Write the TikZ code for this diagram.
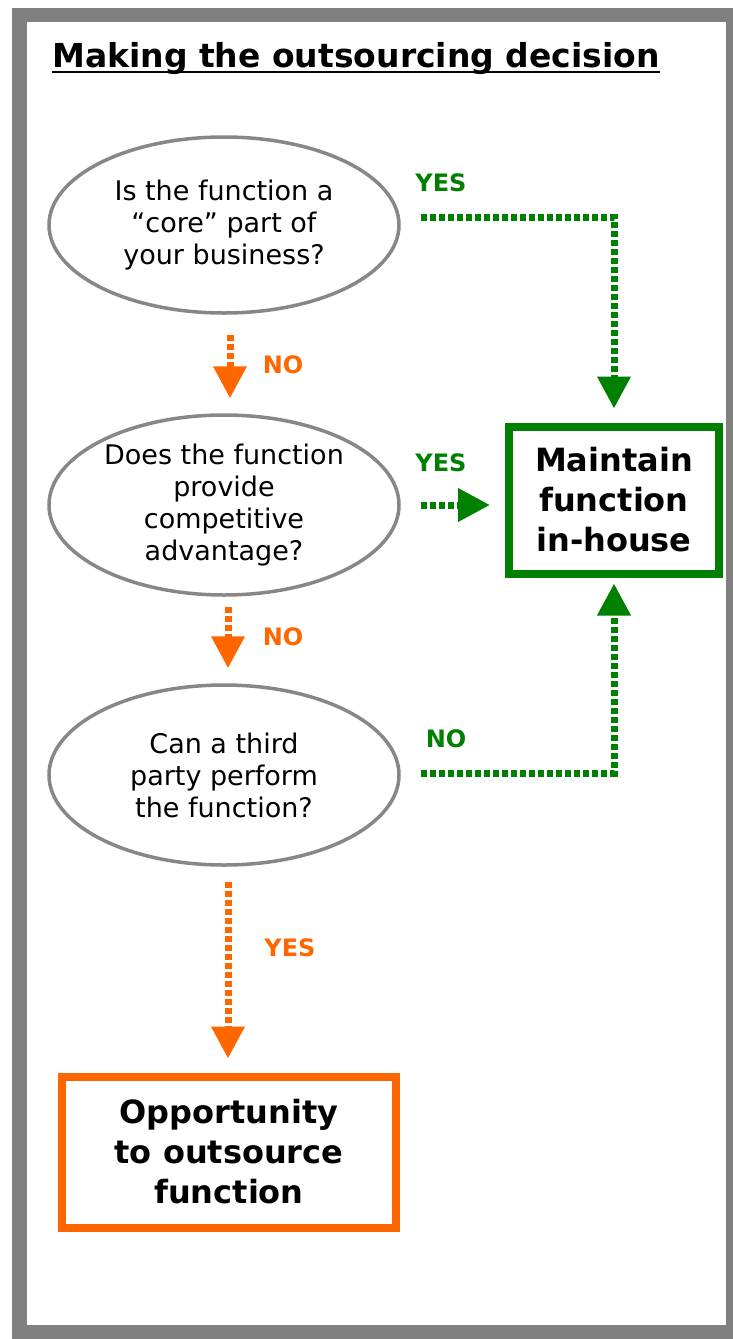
\documentclass[tikz,border=0pt]{standalone}
\usepackage{fontspec}
\setmainfont{DejaVu Sans}
\usetikzlibrary{shapes.geometric,arrows.meta}
\definecolor{dgreen}{RGB}{0,128,0}
\definecolor{dorange}{RGB}{255,102,0}
\definecolor{framegray}{RGB}{128,128,128}
\definecolor{ovalgray}{RGB}{135,135,135}
\begin{document}
\begin{tikzpicture}[x=1pt, y=-1pt, >={Triangle[length=32pt,width=32pt]},
	question/.style={ellipse, draw=ovalgray, line width=3.5pt, minimum width=350pt, minimum height=176pt,
		inner sep=0pt, align=center, font=\fontsize{27}{32}\selectfont},
	result/.style={rectangle, line width=8pt, fill=white, inner sep=0pt, align=center,
		font=\fontsize{32}{40}\selectfont\bfseries},
	gflow/.style={draw=dgreen, line width=7pt, dash pattern=on 6pt off 3pt, ->},
	oflow/.style={draw=dorange, line width=7pt, dash pattern=on 6pt off 3pt, ->},
	glabel/.style={text=dgreen, font=\fontsize{24}{28}\selectfont\bfseries},
	olabel/.style={text=dorange, font=\fontsize{24}{28}\selectfont\bfseries}]
	\useasboundingbox (0,0) rectangle (733,1339);
	\fill[framegray] (12,8) rectangle (733,1339);
	\fill[white] (27,22) rectangle (726,1325);
	\node[anchor=base west, inner sep=0pt, font=\fontsize{33}{40}\selectfont\bfseries] (title) at (52,67) {Making the outsourcing decision};
	\draw[line width=1.8pt] ([yshift=-5pt]title.base west) -- ([yshift=-5pt]title.base east);
	% questions
	\node[question] (q1) at (224,225) {Is the function a\\“core” part of\\your business?};
	\node[question, minimum height=180pt] (q2) at (224,505) {Does the function\\provide\\competitive\\advantage?};
	\node[question, minimum height=180pt] (q3) at (224,775) {Can a third\\party perform\\the function?};
	% outcomes
	\node[result, draw=dgreen, minimum width=210pt, minimum height=147pt] (keep) at (614,500) {Maintain\\function\\in-house};
	\node[result, draw=dorange, minimum width=334pt, minimum height=151pt] (outsrc) at (229,1152) {Opportunity\\to outsource\\function};
	% flow
	\draw[oflow, shorten <=20pt, shorten >=15pt] ([xshift=6pt]q1.south) -- ([xshift=6pt]q2.north);
	\draw[oflow, shorten <=10pt, shorten >=15pt] ([xshift=4pt]q2.south) -- ([xshift=4pt]q3.north);
	\draw[oflow, shorten <=15pt, shorten >=14pt] ([xshift=4pt]q3.south) -- ([xshift=4pt]q3.south |- outsrc.north);
	\draw[gflow, shorten <=20pt, shorten >=14pt] ([yshift=8pt]q1.east) -| (keep.north);
	\draw[gflow, shorten <=20pt, shorten >=15pt] (q2.east) -- (q2.east -| keep.west);
	\draw[gflow, shorten <=20pt, shorten >=6pt] ([yshift=2pt]q3.east) -| (keep.south);
	% labels
	\node[olabel] (no1) at (283,365) {NO};
	\node[olabel] (no2) at (283,637) {NO};
	\node[olabel] (yes3) at (290,948) {YES};
	\node[glabel] (yes1) at (441,183) {YES};
	\node[glabel] (yes2) at (441,463) {YES};
	\node[glabel] (no3) at (446,739) {NO};
\end{tikzpicture}
\end{document}
